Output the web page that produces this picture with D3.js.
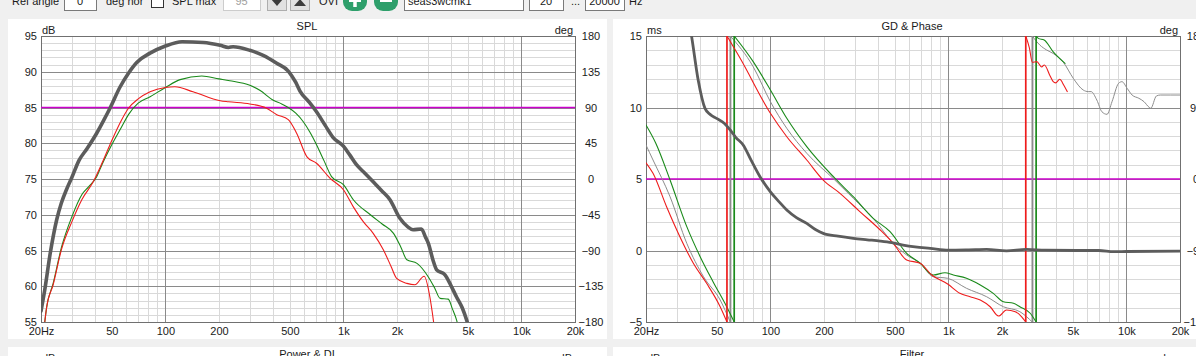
<!DOCTYPE html>
<html><head><meta charset="utf-8">
<script src="https://cdn.jsdelivr.net/npm/d3@7"></script>
<style>
html,body{margin:0;padding:0;background:#f0f0f0;overflow:hidden;}
svg{display:block;font-family:"Liberation Sans",Arial,sans-serif;}
</style></head><body>
<svg id="c" width="1196" height="356"></svg>
<script>
// ---------- data ----------
const xTickValues = [20,50,100,200,500,1000,2000,5000,10000,20000];
const xTickLabels = ["20Hz","50","100","200","500","1k","2k","5k","10k","20k"];
const splTicks = [55,60,65,70,75,80,85,90,95];
const splPhaseTicks = [-180,-135,-90,-45,0,45,90,135,180];
const gdTicks = [-5,0,5,10,15];
const gdPhaseTicks = [-180,-90,0,90,180];
const splRefLevel = 85;
const gdRefLevel = 5;

const splTotal = [[20,56.5],[21,59.5],[22.5,64.5],[24.5,69.3],[26,71.6],[27.9,73.6],[29.8,75.2],[32.7,77.6],[36.4,79.3],[41.1,81.4],[45,83.2],[48.8,84.9],[55.7,87.9],[62,89.8],[69,91.3],[82,92.6],[100,93.6],[124,94.2],[163,94.1],[203,93.7],[226,93.4],[240,93.5],[298,93.0],[354,92.3],[422,91.2],[490,90.1],[540,88.5],[570,87.3],[640,85.8],[706,84.4],[790,82.5],[876,80.8],[1000,79.6],[1090,78.3],[1184,77.0],[1320,75.8],[1470,74.6],[1650,73.3],[1826,72.1],[2076,69.5],[2300,68.3],[2460,67.9],[2740,68.0],[2900,66.8],[3000,66.0],[3200,63.5],[3340,62.3],[3720,61.6],[4000,60.2],[4320,58.5],[4650,57.0],[4920,55.3],[5100,54]];
const splGreen = [[21,55],[21.5,57],[23.4,60.4],[26.1,65.5],[29.8,69.7],[33.9,72.8],[37,73.9],[41.1,75.3],[44,77],[48.8,79.3],[56.8,82.3],[62,84],[70.3,85.6],[82,86.5],[100,87.8],[121,88.9],[160,89.4],[200,89.0],[230,88.75],[298,88.1],[339,87.4],[404,86.0],[450,85.5],[490,85.0],[540,84.2],[595,83.0],[650,81.5],[706,79.8],[780,77.5],[860,75.3],[1000,74.2],[1137,72.1],[1417,70.0],[1650,68.7],[1912,67.4],[2100,65.5],[2272,63.7],[2590,63.2],[3000,61.3],[3250,59.8],[3496,58.3],[3880,58.2],[4100,56.8],[4320,55.3],[4450,54]];
const splRed = [[21,55],[21.5,57],[23.4,60.2],[26.1,65.2],[29.8,69.0],[33.9,72.1],[39.3,74.6],[44,77.2],[48.8,79.8],[56.8,83.3],[62,84.9],[70.3,86.2],[82,87.2],[100,87.8],[113,87.9],[143,87.2],[203,85.95],[226,85.8],[298,85.5],[370,84.9],[422,84.0],[490,83.3],[546,81.4],[624,78.1],[706,77.2],[842,75.1],[1000,73.5],[1137,71.1],[1296,69.0],[1470,67.4],[1676,65.1],[1850,62.8],[1990,61.1],[2272,60.4],[2520,60.2],[2840,61.4],[3060,58.5],[3150,56.5],[3250,54]];

const gdTotal = [[35.5,15.5],[36.1,14.95],[39.3,11.9],[42.9,9.94],[46,9.5],[49.8,9.24],[55,8.9],[59.4,8.43],[64,7.9],[70.3,7.38],[78,6.3],[87.4,5.16],[100,4.1],[112,3.4],[123.6,2.83],[140,2.3],[160,1.9],[180,1.45],[198,1.2],[240,1.0],[292,0.85],[350,0.75],[414,0.66],[480,0.55],[556,0.38],[650,0.25],[790,0.15],[1000,0.03],[1300,0.05],[1640,0.08],[2120,-0.03],[2740,0.08],[3500,0.02],[5480,0.0],[7000,0.0],[8500,-0.08],[10000,-0.07],[20000,-0.05]];
const phaseGreen = [[20,68],[22.7,45],[27.3,-1.3],[33.9,-60],[40.3,-97.8],[47.6,-129.3],[56.8,-160.8],[62.6,-180],[62.6,180],[80,147.7],[100,112],[123.6,76.4],[160,40.7],[230,1],[292,-22.3],[378,-49.5],[470,-66.3],[583,-93.5],[694,-106.1],[822,-120.9],[956,-118],[1066,-120.9],[1264,-125],[1510,-133.4],[1786,-143.9],[2036,-154.5],[2320,-156.5],[2520,-160.8],[2880,-169],[3110,-180],[3110,180],[3200,177],[3450,175],[3880,160],[4520,145.6]];
const phaseGrey = [[20,42.8],[21.9,23.9],[27.3,-22.3],[33.9,-81],[42.1,-123],[52.2,-152.3],[59.5,-180],[59.5,180],[80,141.4],[100,97.3],[123.6,63.8],[160,32.4],[230,-1.3],[292,-24.3],[378,-49.5],[490,-81],[583,-95.7],[694,-106],[822,-123],[990,-125],[1264,-137.6],[1640,-148.2],[2036,-160.8],[2520,-167],[2960,-180],[2960,180],[3260,168.7],[3560,162.4],[3880,158],[4420,147],[5030,126.7],[5720,112],[6100,110],[6330,110],[6820,99.4],[7280,84.7],[7780,81.4],[8300,97.3],[9040,120.5],[9440,122.5],[10090,114.2],[10760,105.7],[11750,101.6],[12560,97.3],[13400,90.3],[13700,89],[14740,104.5],[15500,105.7],[20000,105.7]];
const phaseRed = [[20,20.5],[21.9,7.2],[26.1,-34.9],[31,-72.6],[36.9,-106.1],[43.8,-131.3],[52.2,-160.8],[57,-180],[57,180],[67.6,152],[100,82.7],[123.6,53.2],[160,23.9],[198,-1.3],[246,-18],[318,-41],[414,-64.2],[490,-81],[583,-102],[694,-106],[806,-120.9],[990,-132.2],[1160,-143.9],[1324,-148.2],[1510,-152.3],[1716,-160.8],[1912,-172.5],[2120,-164.9],[2374,-167],[2580,-173.4],[2720,-180],[2720,180],[2850,165],[2960,147],[3136,147.7],[3340,141],[3460,143.5],[3720,130],[3880,122.5],[4000,121],[4220,125.5],[4450,118],[4650,110]];

// ---------- drawing ----------
const svg = d3.select("#c");
const FONT = 11;
const TXT = "#1a1a1a";
svg.append("rect").attr("width",1196).attr("height",356).attr("fill","#f0f0f0");

// toolbar (cut off at the top of the window)
const tb = svg.append("g").attr("font-size",FONT).attr("fill",TXT);
const TBY = 5;
function box(x,w,label,col,anchor){
  tb.append("rect").attr("x",x+0.5).attr("y",-11.5).attr("width",w).attr("height",22)
    .attr("fill","#ffffff").attr("stroke",col?"#cccccc":"#7a7a7a");
  const t = tb.append("text").attr("y",TBY).text(label).attr("fill",col||TXT);
  if(anchor==="start") t.attr("x",x+4); else t.attr("x",x+w/2).attr("text-anchor","middle");
}
tb.append("text").attr("x",12).attr("y",TBY).text("Ref angle");
box(64,32,"0");
tb.append("text").attr("x",106).attr("y",TBY).text("deg hor");
tb.append("rect").attr("x",151.5).attr("y",-4.5).attr("width",12).attr("height",12).attr("fill","#fff").attr("stroke","#333");
tb.append("text").attr("x",172).attr("y",TBY).text("SPL max");
box(223,37,"95","#a0a0a0");
[[267,"down"],[290,"up"]].forEach(([x,dir])=>{
  tb.append("rect").attr("x",x+0.5).attr("y",-9.5).attr("width",19).attr("height",20).attr("fill","#e1e1e1").attr("stroke","#adadad");
  const cx=x+10, cy=2;
  const pts = dir==="down" ? [[cx-6,cy-3],[cx+6,cy-3],[cx,cy+4]] : [[cx-6,cy+4],[cx+6,cy+4],[cx,cy-3]];
  tb.append("path").attr("d","M"+pts.map(p=>p.join(",")).join("L")+"Z").attr("fill","#3c3c3c");
});
tb.append("text").attr("x",319).attr("y",TBY).text("OVI");
[[355,true],[386,false]].forEach(([cx,plus])=>{
  tb.append("rect").attr("x",cx-12).attr("y",-12).attr("width",24).attr("height",23).attr("rx",9).attr("fill","#2e9f6b");
  tb.append("rect").attr("x",cx-6).attr("y",-1.5).attr("width",12).attr("height",3.5).attr("fill","#fff");
  if(plus) tb.append("rect").attr("x",cx-1.75).attr("y",-7).attr("width",3.5).attr("height",14).attr("fill","#fff");
});
box(404,119,"seas3wcmk1",null,"start");
box(529,34,"20");
tb.append("text").attr("x",571).attr("y",TBY).text("...");
box(585,39,"20000");
tb.append("text").attr("x",629).attr("y",TBY).text("Hz");

// panels
[[8,19,599,320],[613,19,590,320],[8,347,599,30],[613,347,590,30]].forEach(([x,y,w,h])=>{
  svg.append("rect").attr("x",x).attr("y",y).attr("width",w).attr("height",h).attr("fill","#ffffff");
});

// bottom (cut) panels text
const bt = svg.append("g").attr("font-size",FONT).attr("fill",TXT);
bt.append("text").attr("x",42).attr("y",362).text("dB");
bt.append("text").attr("x",307).attr("y",358).attr("text-anchor","middle").text("Power & DI");
bt.append("text").attr("x",572).attr("y",362).attr("text-anchor","end").text("dB");
bt.append("text").attr("x",647).attr("y",362).text("dB");
bt.append("text").attr("x",912).attr("y",358).attr("text-anchor","middle").text("Filter");
bt.append("text").attr("x",1178).attr("y",362).attr("text-anchor","end").text("deg");

const minorFreqs = [];
for (let dec=10; dec<=10000; dec*=10) for (let m=2; m<=9; m++){ const f=m*dec; if(f>20 && f<20000) minorFreqs.push(f); }
const majorFreqs = [100,1000,10000];

function chart(o){
  const g = svg.append("g");
  const x = d3.scaleLog().domain([20,20000]).range([o.x0,o.x1]);
  const y = d3.scaleLinear().domain(o.yDomain).range([322,36]);
  const yr = d3.scaleLinear().domain([-180,180]).range([322,36]);
  const id = "clip"+o.x0;
  svg.append("clipPath").attr("id",id).append("rect").attr("x",o.x0).attr("y",36).attr("width",o.x1-o.x0).attr("height",286);
  const minorY = d3.range(o.yDomain[0], o.yDomain[1]+0.001, o.yMinor).filter(v=>!o.ticks.includes(v));
  g.selectAll(null).data(minorY).enter().append("line")
    .attr("x1",o.x0).attr("x2",o.x1).attr("y1",d=>Math.round(y(d))+0.5).attr("y2",d=>Math.round(y(d))+0.5)
    .attr("stroke","#d9d9d9");
  g.selectAll(null).data(minorFreqs).enter().append("line")
    .attr("x1",d=>Math.round(x(d))+0.5).attr("x2",d=>Math.round(x(d))+0.5).attr("y1",36).attr("y2",322)
    .attr("stroke","#d9d9d9");
  g.selectAll(null).data(o.ticks).enter().append("line")
    .attr("x1",o.x0).attr("x2",o.x1).attr("y1",d=>Math.round(y(d))+0.5).attr("y2",d=>Math.round(y(d))+0.5)
    .attr("stroke","#8a8a8a");
  g.selectAll(null).data(majorFreqs).enter().append("line")
    .attr("x1",d=>Math.round(x(d))+0.5).attr("x2",d=>Math.round(x(d))+0.5).attr("y1",36).attr("y2",322)
    .attr("stroke","#8a8a8a");
  g.append("rect").attr("x",Math.round(o.x0)+0.5).attr("y",36.5).attr("width",Math.round(o.x1-o.x0)).attr("height",286)
    .attr("fill","none").attr("stroke","#707070");

  const ax = g.append("g").attr("transform","translate(0,322)")
    .call(d3.axisBottom(x).tickValues(xTickValues).tickFormat((d,i)=>xTickLabels[i]).tickSize(0).tickPadding(5));
  const ay = g.append("g").attr("transform",`translate(${o.x0},0)`)
    .call(d3.axisLeft(y).tickValues(o.ticks).tickSize(0).tickPadding(4));
  const ar = g.append("g").attr("transform",`translate(${o.x1},0)`)
    .call(d3.axisRight(yr).tickValues(o.rTicks).tickSize(0).tickPadding(16));
  ar.selectAll("text").attr("text-anchor","middle");
  [ax,ay,ar].forEach(a=>{
    a.select(".domain").remove();
    a.attr("font-family",null).attr("font-size",FONT);
    a.selectAll("text").attr("fill",TXT);
  });

  g.append("text").attr("x",o.titleX).attr("y",30).attr("text-anchor","middle").attr("font-size",FONT).attr("fill",TXT).text(o.title);
  g.append("text").attr("x",o.x0+1).attr("y",34).attr("font-size",FONT).attr("fill",TXT).text(o.unitL);
  g.append("text").attr("x",o.x1-2).attr("y",34).attr("text-anchor","end").attr("font-size",FONT).attr("fill",TXT).text("deg");

  const plot = g.append("g").attr("clip-path",`url(#${id})`);
  plot.append("line").attr("x1",o.x0).attr("x2",o.x1).attr("y1",y(o.ref)).attr("y2",y(o.ref))
    .attr("stroke","#cc00cc").attr("stroke-width",1.6);
  return {x,y,yr,plot};
}

function drawLine(c, data, yScale, color, width){
  const line = d3.line().x(d=>c.x(d[0])).y(d=>yScale(d[1])).curve(d3.curveMonotoneX);
  c.plot.append("path").attr("d",line(data)).attr("fill","none").attr("stroke",color)
    .attr("stroke-width",width).attr("stroke-linejoin","round").attr("stroke-linecap","round");
}
function drawPhase(c, data, color, width){
  const segs=[]; let cur=[data[0]];
  for(let i=1;i<data.length;i++){
    if(Math.abs(data[i][1]-data[i-1][1])>180){ segs.push(cur); cur=[data[i]];
      c.plot.append("line").attr("x1",c.x(data[i-1][0])).attr("x2",c.x(data[i][0]))
        .attr("y1",c.yr(data[i-1][1])).attr("y2",c.yr(data[i][1])).attr("stroke",color).attr("stroke-width",width+0.6);
    } else cur.push(data[i]);
  }
  segs.push(cur);
  segs.forEach(s=>drawLine(c,s,c.yr,color,width));
}

const L = chart({x0:41,x1:575,yDomain:[55,95],yMinor:1,ticks:splTicks,rTicks:splPhaseTicks,title:"SPL",titleX:307,unitL:"dB",ref:splRefLevel});
drawLine(L,splGreen,L.y,"#1a8a1a",1.1);
drawLine(L,splRed,L.y,"#ee1c1c",1.1);
drawLine(L,splTotal,L.y,"#5c5c5c",3.6);

const R = chart({x0:646,x1:1180,yDomain:[-5,15],yMinor:1,ticks:gdTicks,rTicks:gdPhaseTicks,title:"GD & Phase",titleX:912,unitL:"ms",ref:gdRefLevel});
drawPhase(R,phaseGrey,"#8c8c8c",1);
drawPhase(R,phaseGreen,"#1a8a1a",1.1);
drawPhase(R,phaseRed,"#ee1c1c",1.1);
drawLine(R,gdTotal,R.y,"#5c5c5c",2.8);
</script>
</body></html>
